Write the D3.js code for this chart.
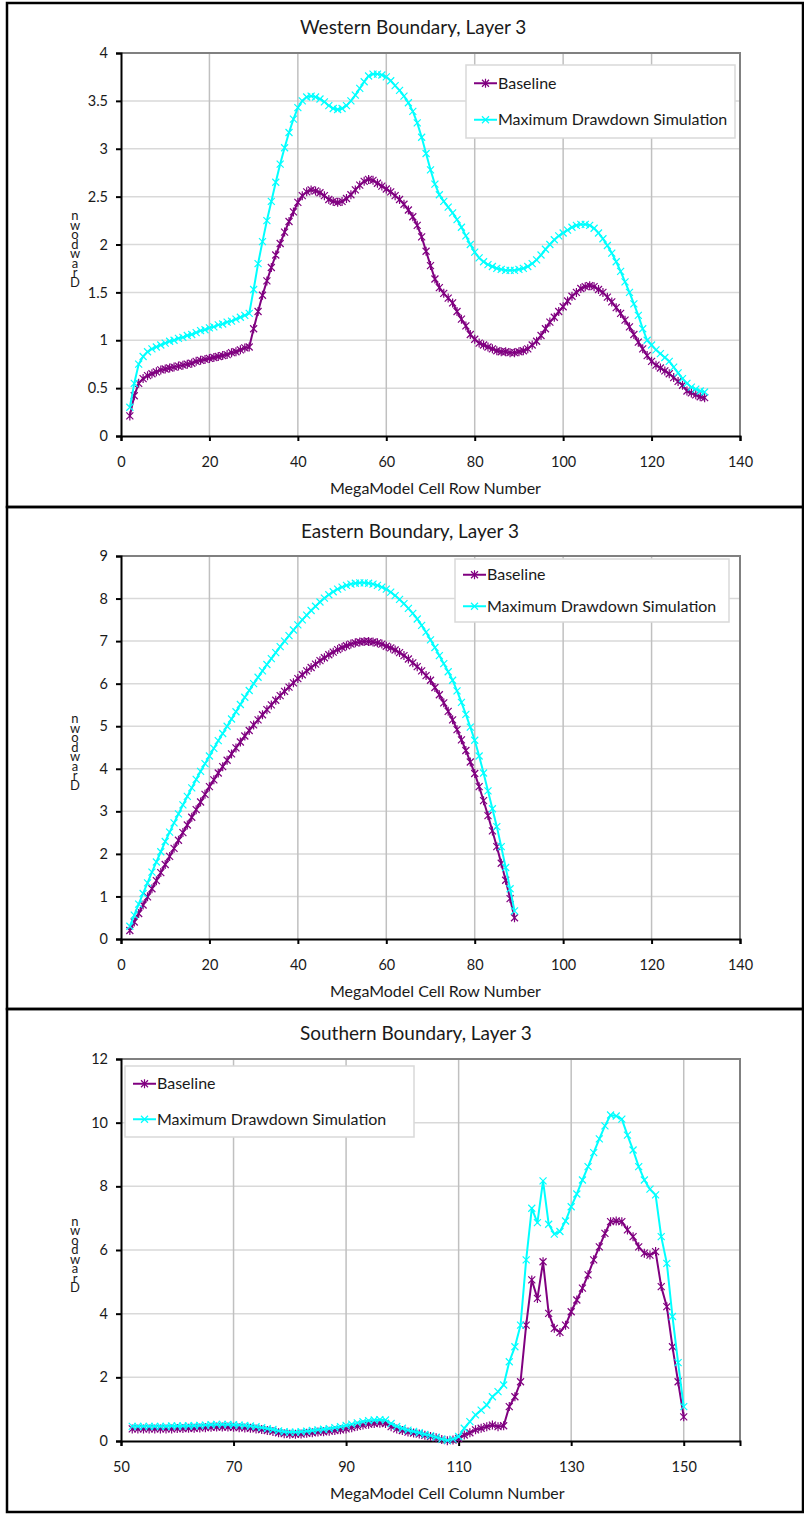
<!DOCTYPE html>
<html>
<head>
<meta charset="utf-8">
<script src="https://cdn.jsdelivr.net/npm/d3@7"></script>
<style>
  body { margin: 0; background: #fff; }
  svg { display: block; }
  text { font-family: Lato, "Open Sans", sans-serif; fill: #1a1a1a; }
</style>
</head>
<body>
<svg id="chart" width="804" height="1515"></svg>
<script>
// ---- Western boundary, layer 3 (rows 2..132) ----
const westRows = d3.range(2, 133);
const westBaseline = [
  0.21,0.42,0.55,0.60,0.63,0.65,0.67,0.69,0.70,0.71,0.72,0.73,0.74,0.75,0.76,0.78,0.79,0.80,0.81,0.82,
  0.83,0.84,0.85,0.87,0.88,0.90,0.92,0.93,1.12,1.30,1.47,1.62,1.76,1.89,2.01,2.13,2.24,2.34,2.44,2.51,
  2.55,2.57,2.56,2.54,2.51,2.47,2.45,2.44,2.45,2.48,2.52,2.57,2.62,2.66,2.68,2.67,2.64,2.61,2.58,2.55,
  2.51,2.47,2.42,2.36,2.29,2.20,2.08,1.93,1.78,1.64,1.55,1.49,1.44,1.39,1.30,1.22,1.15,1.06,1.01,0.97,
  0.95,0.93,0.91,0.89,0.88,0.88,0.87,0.87,0.88,0.89,0.91,0.95,0.99,1.05,1.12,1.19,1.24,1.30,1.35,1.41,
  1.46,1.50,1.54,1.56,1.57,1.56,1.53,1.50,1.45,1.40,1.34,1.28,1.21,1.14,1.06,0.98,0.91,0.84,0.78,0.74,
  0.71,0.68,0.65,0.61,0.57,0.53,0.47,0.45,0.43,0.41,0.40
];
const westMaxDrawdown = [
  0.30,0.55,0.75,0.83,0.88,0.91,0.93,0.95,0.97,0.99,1.00,1.02,1.03,1.05,1.06,1.08,1.10,1.11,1.13,1.14,
  1.16,1.17,1.19,1.20,1.22,1.24,1.26,1.28,1.53,1.80,2.03,2.25,2.45,2.65,2.84,3.01,3.17,3.31,3.43,3.50,
  3.54,3.55,3.54,3.52,3.49,3.45,3.42,3.41,3.42,3.45,3.50,3.56,3.63,3.70,3.76,3.78,3.78,3.77,3.75,3.71,
  3.66,3.61,3.55,3.48,3.39,3.27,3.12,2.95,2.78,2.63,2.52,2.45,2.39,2.33,2.26,2.18,2.09,2.00,1.92,1.86,
  1.82,1.79,1.77,1.75,1.74,1.73,1.73,1.73,1.74,1.75,1.77,1.80,1.84,1.89,1.95,2.00,2.05,2.09,2.12,2.15,
  2.18,2.20,2.21,2.21,2.20,2.17,2.12,2.06,1.99,1.91,1.82,1.72,1.61,1.50,1.38,1.26,1.12,1.00,0.95,0.90,
  0.86,0.82,0.78,0.72,0.66,0.60,0.55,0.51,0.49,0.47,0.46
];

// ---- Eastern boundary, layer 3 (rows 2..89) ----
const eastRows = d3.range(2, 90);
const eastBaseline = [
  0.20,0.40,0.60,0.80,0.99,1.18,1.37,1.56,1.75,1.94,2.13,2.32,2.50,2.68,2.86,3.04,3.22,3.40,3.58,3.74,
  3.90,4.05,4.20,4.35,4.49,4.63,4.77,4.90,5.03,5.15,5.27,5.39,5.50,5.61,5.72,5.82,5.92,6.02,6.12,6.21,
  6.30,6.38,6.46,6.54,6.61,6.68,6.74,6.80,6.85,6.89,6.93,6.96,6.98,6.99,6.99,6.98,6.96,6.93,6.88,6.84,
  6.79,6.73,6.66,6.58,6.49,6.40,6.30,6.19,6.08,5.91,5.74,5.55,5.35,5.15,4.92,4.68,4.43,4.16,3.89,3.58,
  3.25,2.90,2.54,2.17,1.78,1.38,0.95,0.50
];
const eastMaxDrawdown = [
  0.30,0.56,0.82,1.07,1.32,1.57,1.81,2.05,2.29,2.51,2.73,2.94,3.15,3.35,3.55,3.75,3.94,4.12,4.30,4.48,
  4.66,4.83,5.00,5.17,5.34,5.51,5.68,5.84,6.00,6.15,6.30,6.45,6.59,6.73,6.87,7.00,7.13,7.26,7.38,7.50,
  7.61,7.72,7.82,7.92,8.01,8.09,8.16,8.22,8.27,8.31,8.34,8.36,8.37,8.37,8.36,8.34,8.31,8.27,8.22,8.15,
  8.07,7.98,7.88,7.77,7.65,7.52,7.37,7.21,7.03,6.85,6.66,6.47,6.28,6.08,5.83,5.56,5.28,4.98,4.67,4.30,
  3.90,3.48,3.06,2.64,2.17,1.68,1.18,0.66
];

// ---- Southern boundary, layer 3 (columns 52..150) ----
const southCols = d3.range(52, 151);
const southBaseline = [
  0.38,0.38,0.38,0.38,0.38,0.38,0.38,0.38,0.39,0.39,0.40,0.40,0.41,0.42,0.43,0.44,0.44,0.44,0.43,0.42,
  0.41,0.40,0.38,0.36,0.33,0.30,0.26,0.23,0.21,0.21,0.22,0.24,0.26,0.28,0.29,0.31,0.33,0.35,0.38,0.42,
  0.46,0.50,0.53,0.55,0.56,0.55,0.45,0.38,0.33,0.28,0.25,0.22,0.18,0.14,0.10,0.05,0.01,0.03,0.08,0.19,
  0.26,0.35,0.40,0.45,0.50,0.45,0.48,1.08,1.39,1.86,3.64,5.06,4.48,5.63,4.01,3.54,3.41,3.64,4.06,4.43,
  4.80,5.22,5.69,6.10,6.52,6.89,6.91,6.89,6.63,6.42,6.10,5.90,5.84,5.95,4.85,4.22,2.96,1.86,0.76
];
const southMaxDrawdown = [
  0.46,0.46,0.46,0.46,0.46,0.46,0.46,0.47,0.47,0.47,0.48,0.48,0.49,0.50,0.51,0.52,0.52,0.52,0.51,0.50,
  0.49,0.47,0.45,0.42,0.39,0.36,0.32,0.29,0.28,0.28,0.29,0.31,0.33,0.35,0.37,0.39,0.42,0.45,0.49,0.53,
  0.57,0.61,0.64,0.66,0.67,0.66,0.55,0.46,0.40,0.34,0.30,0.26,0.21,0.17,0.12,0.06,0.02,0.06,0.14,0.40,
  0.61,0.82,0.97,1.13,1.39,1.55,1.76,2.49,2.96,3.64,5.69,7.31,6.86,8.17,6.81,6.50,6.58,6.91,7.36,7.76,
  8.20,8.62,9.06,9.49,9.90,10.24,10.21,10.11,9.61,9.14,8.62,8.20,7.91,7.73,6.42,5.58,3.91,2.46,1.08
];

// ---- axis ticks ----
const westXTicks = [0, 20, 40, 60, 80, 100, 120, 140];
const westYTicks = [0, 0.5, 1, 1.5, 2, 2.5, 3, 3.5, 4];
const eastXTicks = [0, 20, 40, 60, 80, 100, 120, 140];
const eastYTicks = [0, 1, 2, 3, 4, 5, 6, 7, 8, 9];
const southXTicks = [50, 70, 90, 110, 130, 150];
const southYTicks = [0, 2, 4, 6, 8, 10, 12];

const seriesNames = ["Baseline", "Maximum Drawdown Simulation"];
const seriesColors = ["#800080", "#00ffff"];
const yTitle = "Drawdown";

const panels = [
  {
    frame: [7, 3, 796, 504], title: "Western Boundary, Layer 3", titleX: 300, titleY: 34,
    xLabel: "MegaModel Cell Row Number", xLabelX: 330, plot: [121, 53, 740, 436],
    xDomain: [0, 140], xTicks: westXTicks, yDomain: [0, 4], yTicks: westYTicks,
    x: westRows, series: [westBaseline, westMaxDrawdown],
    legend: [466, 65, 269, 73]
  },
  {
    frame: [7, 507, 796, 502], title: "Eastern Boundary, Layer 3", titleX: 301, titleY: 538,
    xLabel: "MegaModel Cell Row Number", xLabelX: 330, plot: [121, 556, 740, 939],
    xDomain: [0, 140], xTicks: eastXTicks, yDomain: [0, 9], yTicks: eastYTicks,
    x: eastRows, series: [eastBaseline, eastMaxDrawdown],
    legend: [455, 559, 274, 63]
  },
  {
    frame: [7, 1009, 796, 503], title: "Southern Boundary, Layer 3", titleX: 300, titleY: 1040,
    xLabel: "MegaModel Cell Column Number", xLabelX: 330, plot: [121, 1059, 740, 1441],
    xDomain: [50, 160], xTicks: southXTicks, yDomain: [0, 12], yTicks: southYTicks,
    x: southCols, series: [southBaseline, southMaxDrawdown],
    legend: [125, 1066, 289, 71]
  }
];

const svg = d3.select("#chart");

// marker shapes: asterisk for the baseline, cross for the simulation
const markerPaths = [
  "M-3.5,-3.5L3.5,3.5M-3.5,3.5L3.5,-3.5M0,-4.5L0,4.5",
  "M-3.5,-3.5L3.5,3.5M-3.5,3.5L3.5,-3.5"
];

panels.forEach(p => {
  const g = svg.append("g");
  const [L, T, R, B] = p.plot;
  const xs = d3.scaleLinear().domain(p.xDomain).range([L, R]);
  const ys = d3.scaleLinear().domain(p.yDomain).range([B, T]);

  // frame
  g.append("rect")
    .attr("x", p.frame[0]).attr("y", p.frame[1])
    .attr("width", p.frame[2]).attr("height", p.frame[3])
    .attr("fill", "none").attr("stroke", "#000").attr("stroke-width", 2.5);

  // gridlines
  g.append("g").selectAll("line").data(p.yTicks.slice(1, -1)).join("line")
    .attr("x1", L).attr("x2", R)
    .attr("y1", d => ys(d)).attr("y2", d => ys(d))
    .attr("stroke", "#d9d9d9").attr("stroke-width", 1.5);
  g.append("g").selectAll("line").data(p.xTicks.filter(d => d > p.xDomain[0] && d < p.xDomain[1])).join("line")
    .attr("y1", T).attr("y2", B)
    .attr("x1", d => xs(d)).attr("x2", d => xs(d))
    .attr("stroke", "#c0c0c0").attr("stroke-width", 1.5);

  // plot area top/right border
  g.append("path")
    .attr("d", `M${L},${T}H${R}V${B}`)
    .attr("fill", "none").attr("stroke", "#808080").attr("stroke-width", 2);

  // axes
  const xAxis = d3.axisBottom(xs).tickValues(p.xTicks).tickSize(5).tickPadding(16).tickFormat(d3.format("d"));
  const yAxis = d3.axisLeft(ys).tickValues(p.yTicks).tickSize(5).tickPadding(8).tickFormat(d => String(d));
  const gx = g.append("g").attr("transform", `translate(0,${B})`).call(xAxis);
  const gy = g.append("g").attr("transform", `translate(${L},0)`).call(yAxis);
  [gx, gy].forEach(a => {
    a.select(".domain").attr("stroke", "#000").attr("stroke-width", 2);
    a.selectAll(".tick line").attr("stroke", "#000").attr("stroke-width", 2);
    a.selectAll(".tick text").attr("font-family", "Lato, sans-serif").attr("font-size", 14.5).attr("fill", "#1a1a1a");
  });

  // series
  p.series.forEach((vals, si) => {
    const pts = vals.map((v, i) => [p.x[i], v]);
    g.append("path")
      .attr("d", d3.line().x(d => xs(d[0])).y(d => ys(d[1]))(pts))
      .attr("fill", "none").attr("stroke", seriesColors[si]).attr("stroke-width", 2)
      .attr("stroke-linejoin", "round");
    g.append("g").selectAll("path").data(pts).join("path")
      .attr("transform", d => `translate(${xs(d[0])},${ys(d[1])})`)
      .attr("d", markerPaths[si])
      .attr("fill", "none").attr("stroke", seriesColors[si]).attr("stroke-width", 1.2);
  });

  // title
  g.append("text").attr("x", p.titleX).attr("y", p.titleY)
    .attr("font-size", 19).text(p.title);

  // x-axis title
  g.append("text").attr("x", p.xLabelX).attr("y", B + 58)
    .attr("font-size", 16).text(p.xLabel);

  // y-axis title: a single text element, one character per row reading upward
  const chars = Array.from(yTitle);
  const baseY = (T + B) / 2 + 42;
  g.append("text").attr("text-anchor", "middle").attr("font-size", 13)
    .selectAll("tspan").data(chars).join("tspan")
    .attr("x", 75).attr("y", (d, i) => baseY - i * 9.5)
    .text(d => d);

  // legend
  const [lx, ly, lw, lh] = p.legend;
  const lg = g.append("g");
  lg.append("rect").attr("x", lx).attr("y", ly).attr("width", lw).attr("height", lh)
    .attr("fill", "#fff").attr("stroke", "#d9d9d9").attr("stroke-width", 1.5);
  seriesNames.forEach((name, si) => {
    const cy = ly + lh * (si === 0 ? 0.25 : 0.75);
    lg.append("line").attr("x1", lx + 8).attr("x2", lx + 31).attr("y1", cy).attr("y2", cy)
      .attr("stroke", seriesColors[si]).attr("stroke-width", 2);
    lg.append("path").attr("transform", `translate(${lx + 19.5},${cy})`).attr("d", markerPaths[si])
      .attr("fill", "none").attr("stroke", seriesColors[si]).attr("stroke-width", 1.2);
    lg.append("text").attr("x", lx + 32).attr("y", cy).attr("dy", "0.35em")
      .attr("font-size", 16).text(name);
  });
});
</script>
</body>
</html>
